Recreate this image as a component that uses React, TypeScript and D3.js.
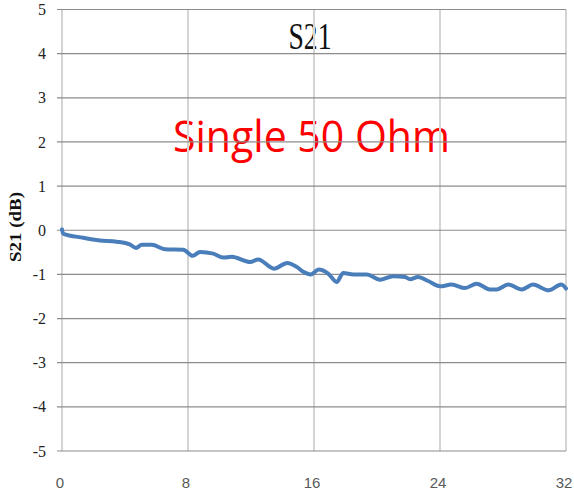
import React from "react";
import * as d3 from "d3";

const freqGHz = [0, 0.07, 1.35, 2.4, 3.47, 4.3, 4.7, 5.06, 5.7, 6.54, 7.7, 8.3, 8.76, 9.6, 10.24, 10.77, 11.94, 12.46, 13.46, 14.3, 14.9, 15.32, 15.79, 16.3, 16.9, 17.44, 17.86, 18.5, 19.35, 20.19, 21.03, 21.78, 22.1, 22.6, 23.25, 24, 24.74, 25.59, 26.33, 27.17, 27.6, 28.33, 29.2, 29.9, 30.9, 31.7, 32];
const s21dB = [0.02, -0.075, -0.17, -0.23, -0.26, -0.32, -0.4, -0.33, -0.33, -0.43, -0.44, -0.58, -0.49, -0.53, -0.62, -0.6, -0.72, -0.66, -0.87, -0.74, -0.83, -0.94, -1.0, -0.89, -0.98, -1.17, -0.97, -1.0, -1.0, -1.12, -1.04, -1.06, -1.11, -1.06, -1.15, -1.27, -1.23, -1.31, -1.21, -1.34, -1.34, -1.23, -1.34, -1.23, -1.36, -1.23, -1.32];
const xTicks = [0, 8, 16, 24, 32];
const yTicks = [5, 4, 3, 2, 1, 0, -1, -2, -3, -4, -5];
const titleText = "S21";
const annotationText = "Single 50 Ohm";
const yAxisLabel = "S21 (dB)";

export default function App() {
  const W = 574, H = 493;
  const x = d3.scaleLinear().domain([0, 32]).range([62, 566]);
  const y = d3.scaleLinear().domain([-5, 5]).range([451, 9.5]);
  const pts: [number, number][] = freqGHz.map((f, i) => [f, s21dB[i]]);
  const line = d3.line<[number, number]>().x(d => x(d[0])).y(d => y(d[1])).curve(d3.curveMonotoneX);
  return (
    <svg width={W} height={H} style={{ position: "absolute", left: 0, top: 0 }}>
      <rect width={W} height={H} fill="#fff" />
      <text x={310} y={49} textAnchor="middle" fontFamily="Liberation Serif, serif" fontSize={38} textLength={43} lengthAdjust="spacingAndGlyphs" fill="#111">{titleText}</text>
      <text x={311.5} y={152} textAnchor="middle" fontFamily="Open Sans, sans-serif" fontSize={43} textLength={277} lengthAdjust="spacingAndGlyphs" fill="#ff0000">{annotationText}</text>
      {xTicks.map(t => (
        <line key={"vx" + t} x1={x(t)} x2={x(t)} y1={y(5)} y2={y(-5)} stroke="#d4d4d4" strokeWidth={2} />
      ))}
      {yTicks.map(t => (
        <line key={"hy" + t} x1={57} x2={x(32)} y1={y(t)} y2={y(t)} stroke="#8c8c8c" strokeWidth={1.2} />
      ))}
      {yTicks.map(t => (
        <text key={"yl" + t} x={46} y={y(t)} dy="0.35em" textAnchor="end" fontFamily="Liberation Serif, serif" fontSize={16} fill="#222">
          {t < 0 ? "-" + Math.abs(t) : String(t)}
        </text>
      ))}
      {xTicks.map(t => (
        <text key={"xl" + t} x={x(t) - 2} y={488} textAnchor="middle" fontFamily="Liberation Sans Narrow, Arial Narrow, sans-serif" fontSize={15} fill="#595959">
          {t}
        </text>
      ))}
      <text transform={`translate(21,227) rotate(-90)`} textAnchor="middle" fontFamily="Liberation Serif, serif" fontWeight="bold" fontSize={17} textLength={70} lengthAdjust="spacingAndGlyphs" fill="#111">{yAxisLabel}</text>
      <path d={line(pts) || ""} fill="none" stroke="#4a7ebb" strokeWidth={4} strokeLinejoin="round" strokeLinecap="round" />
    </svg>
  );
}
